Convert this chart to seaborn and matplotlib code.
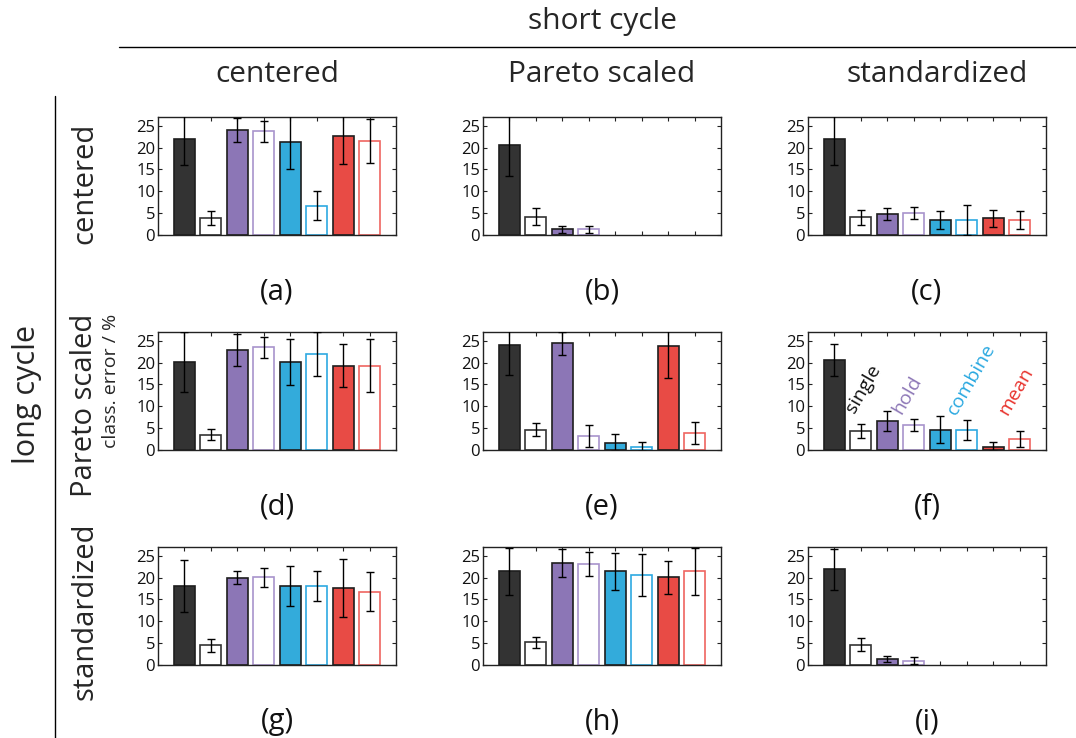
import numpy as np
import pandas as pd
import matplotlib
matplotlib.use("Agg")
import matplotlib.pyplot as plt
from matplotlib.lines import Line2D
import seaborn as sns

# Eight bars per panel: filled / open pair for each method
bar_keys = ["single", "single_o", "hold", "hold_o",
            "combine", "combine_o", "mean", "mean_o"]
fill_colors = ["#333333", "white", "#8C76B6", "white",
               "#33ABDB", "white", "#E84B45", "white"]
edge_colors = ["#1e1e1e", "#333333", "#1e1e1e", "#A894CC",
               "#1e1e1e", "#2DA9E1", "#1e1e1e", "#EF6560"]

# Classification error (%) and its spread, one pair of arrays per panel
mean_a = [21.9, 3.8, 24.0, 23.7, 21.3, 6.7, 22.7, 21.5]
err_a = [5.9, 1.6, 2.7, 2.4, 6.1, 3.3, 6.5, 5.0]
mean_b = [20.7, 4.2, 1.3, 1.3, 0.0, 0.0, 0.0, 0.0]
err_b = [7.1, 2.0, 0.75, 0.75, 0.0, 0.0, 0.0, 0.0]
mean_c = [21.9, 4.1, 4.8, 5.0, 3.4, 3.4, 3.8, 3.4]
err_c = [5.9, 1.7, 1.4, 1.3, 2.1, 3.4, 1.9, 2.0]
mean_d = [20.1, 3.5, 22.9, 23.5, 20.1, 21.9, 19.3, 19.3]
err_d = [6.8, 1.25, 3.7, 2.35, 5.2, 5.0, 4.9, 6.0]
mean_e = [24.0, 4.6, 24.4, 3.2, 1.7, 0.8, 23.9, 3.9]
err_e = [6.9, 1.5, 2.6, 2.5, 2.0, 1.1, 7.4, 2.6]
mean_f = [20.6, 4.3, 6.6, 5.7, 4.6, 4.6, 0.8, 2.5]
err_f = [3.65, 1.55, 2.25, 1.35, 3.1, 2.3, 1.1, 1.85]
mean_g = [18.1, 4.5, 20.0, 20.1, 18.1, 18.1, 17.6, 16.8]
err_g = [6.0, 1.5, 1.5, 2.2, 4.5, 3.4, 6.6, 4.5]
mean_h = [21.4, 5.2, 23.3, 23.1, 21.4, 20.6, 20.1, 21.4]
err_h = [5.3, 1.2, 3.25, 2.7, 4.25, 4.85, 3.8, 5.3]
mean_i = [21.9, 4.6, 1.4, 1.0, 0.0, 0.0, 0.0, 0.0]
err_i = [4.7, 1.5, 0.7, 0.8, 0.0, 0.0, 0.0, 0.0]

panel_tags = ["(a)", "(b)", "(c)", "(d)", "(e)", "(f)", "(g)", "(h)", "(i)"]
panel_means = [mean_a, mean_b, mean_c, mean_d, mean_e, mean_f, mean_g, mean_h, mean_i]
panel_errs = [err_a, err_b, err_c, err_d, err_e, err_f, err_g, err_h, err_i]

col_titles = ["centered", "Pareto scaled", "standardized"]
row_titles = ["centered", "Pareto scaled", "standardized"]

method_names = ["single", "hold", "combine", "mean"]
method_colors = ["#111111", "#8C76B6", "#29A8E0", "#E8322C"]
method_pos = [(1.08, 14.0), (2.75, 12.6), (5.17, 16.2), (6.88, 13.5)]

sns.set_style("ticks")
plt.rcParams["font.family"] = ["Open Sans", "DejaVu Sans"]

W, H = 1076, 738
fig = plt.figure(figsize=(W / 100, H / 100), dpi=100)

col_left = [158, 483, 808]
row_top = [117, 332, 547]
ax_w, ax_h = 238, 118

palette = dict(zip(bar_keys, fill_colors))
xpos = np.arange(len(bar_keys))

for k in range(9):
    r, c = divmod(k, 3)
    ax = fig.add_axes([col_left[c] / W, 1 - (row_top[r] + ax_h) / H, ax_w / W, ax_h / H])
    m = np.array(panel_means[k], dtype=float)
    e = np.array(panel_errs[k], dtype=float)
    df = pd.DataFrame({"method": bar_keys, "error": m})
    sns.barplot(data=df, x="method", y="error", hue="method", palette=palette,
                saturation=1, width=0.8, legend=False, errorbar=None, ax=ax)
    for patch, ec in zip(ax.patches, edge_colors):
        patch.set_edgecolor(ec)
        patch.set_linewidth(1.2 if patch.get_height() > 0 else 0)
    mask = e > 0
    ax.errorbar(xpos[mask], m[mask], yerr=e[mask], fmt="none", ecolor="black",
                elinewidth=1.0, capsize=3, capthick=1.0, zorder=3)
    ax.set_xlim(-1, 8)
    ax.set_ylim(0, 27)
    ax.set_yticks(range(0, 26, 5))
    ax.set_xticks(xpos)
    ax.set_xticklabels([])
    ax.set_xlabel("")
    ax.set_ylabel("")
    ax.tick_params(direction="in", top=True, right=True, length=3, width=0.8,
                   labelsize=12, pad=2, colors="#222222", labelcolor="#111111")
    for sp in ax.spines.values():
        sp.set_visible(True)
        sp.set_color("#222222")
        sp.set_linewidth(1.0)
    cx = (col_left[c] + ax_w / 2) / W
    fig.text(cx, 1 - (row_top[r] + 175) / H, panel_tags[k], ha="center", va="center",
             fontsize=21, color="#111111")
    if k == 5:
        for name, col, (tx, ty) in zip(method_names, method_colors, method_pos):
            ax.text(tx, ty, name, rotation=60, color=col, ha="center", va="center",
                    fontsize=14)

# Column and row headers
fig.text(602 / W, 1 - 22 / H, "short cycle", ha="center", va="center", fontsize=21.5)
fig.add_artist(Line2D([119 / W, 1.0], [1 - 47 / H] * 2, color="black", lw=1.0,
                      transform=fig.transFigure))
col_centers = [277, 602, 937]
for c, t in enumerate(col_titles):
    fig.text(col_centers[c] / W, 1 - 74 / H, t, ha="center", va="center",
             fontsize=21.5)

fig.text(27 / W, 1 - 395 / H, "long cycle", ha="center", va="center", rotation=90,
         fontsize=22)
fig.add_artist(Line2D([55 / W] * 2, [1 - 96 / H, 0.0], color="black", lw=1.0,
                      transform=fig.transFigure))
row_centers = [183, 405, 611]
for r, t in enumerate(row_titles):
    fig.text(85 / W, 1 - row_centers[r] / H, t, ha="center", va="center", rotation=90,
             fontsize=21)

fig.text(111 / W, 1 - 381 / H, "class. error / %", ha="center", va="center",
         rotation=90, fontsize=14)

fig.savefig("out.png", dpi=100)
